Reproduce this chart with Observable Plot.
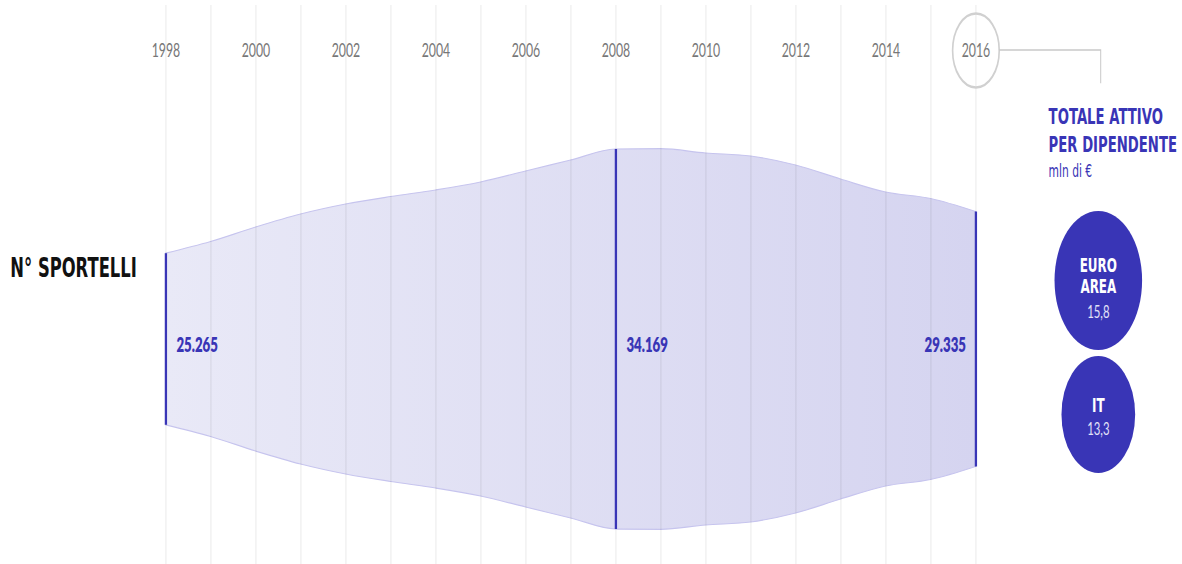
<!DOCTYPE html>
<html>
<head>
<meta charset="utf-8">
<script src="https://cdn.jsdelivr.net/npm/d3@7"></script>
<script src="https://cdn.jsdelivr.net/npm/@observablehq/plot@0.6"></script>
<style>
  html, body { margin: 0; padding: 0; background: #fff; overflow: hidden; }
  #chart { position: relative; width: 1182px; height: 564px; }
  #chart svg { position: absolute; top: 0; }
</style>
</head>
<body>
<div id="chart"></div>
<script>
// ---- data ----
const years = [1998, 1999, 2000, 2001, 2002, 2003, 2004, 2005, 2006, 2007, 2008, 2009, 2010, 2011, 2012, 2013, 2014, 2015, 2016];
const sportelli = [25265, 26265, 27504, 28615, 29469, 30110, 30666, 31349, 32289, 33229, 34169, 34195, 33828, 33571, 32802, 31606, 30495, 29940, 28829];
const tickYears = [1998, 2000, 2002, 2004, 2006, 2008, 2010, 2012, 2014, 2016];
const labelYears = [1998, 2008, 2016];
const labelValues = [25265, 34169, 29335];
const highlightYear = 2016;
const seriesTitle = "N° SPORTELLI";
const panelTitle = "TOTALE ATTIVO\nPER DIPENDENTE";
const panelUnit = "mln di €";
const bubbleAreas = ["EURO AREA", "IT"];
const bubbleNames = ["EURO\nAREA", "IT"];
const bubbleValues = [15.8, 13.3];

// ---- layout ----
const S = 0.63;            // horizontal compression of the original artwork
const W = 1182 / S;
const H = 564;
const MID = 17934;         // value on the stream's centre line
const ink = "#3935b6";

const series = years.map((year, i) => ({year, value: sportelli[i]}));
const markers = labelYears.map((year, i) => ({year, value: sportelli[years.indexOf(year)], label: labelValues[i]}));
const bubbles = bubbleAreas.map((area, i) => ({area, name: bubbleNames[i], value: bubbleValues[i]}));
const mirror = d => 2 * MID - d.value;

const it = d3.formatLocale({decimal: ",", thousands: ".", grouping: [3], currency: ["€", ""]});
const fmtInt = it.format(",d");
const fmtDec = it.format(",.1f");

const valueText = {fill: ink, fontFamily: "Lato", fontWeight: 800, fontSize: 21, lineAnchor: "bottom", dy: 12.7};

const main = Plot.plot({
  width: W, height: H,
  marginTop: 50, marginLeft: 0, marginRight: 0, marginBottom: 0,
  style: {background: "transparent", overflow: "visible"},
  x: {domain: [1998, 2016], range: [165.6 / S, 975.6 / S]},
  y: {domain: [MID - 19226, MID + 28967], range: [H, 0], axis: null},
  marks: [
    Plot.areaY(series, {x: "year", y1: "value", y2: mirror, curve: "monotone-x",
      fill: "url(#streamGrad)", stroke: "#c6c4ee", strokeWidth: 1.2}),
    Plot.ruleX(years, {stroke: "#000", strokeOpacity: 0.085, strokeWidth: 1 / S, insetTop: -45}),
    Plot.dot([highlightYear], {x: d => d, frameAnchor: "top", r: 37, fill: "none", stroke: "#d0d0d0", strokeWidth: 2.6}),
    Plot.axisX(tickYears, {anchor: "top", tickSize: 0, tickPadding: 0, lineAnchor: "middle",
      tickFormat: d => String(d), label: null, fontSize: 19.5, fontWeight: 400, fontFamily: "Lato", fill: "#777"}),
    Plot.ruleX(markers, {x: "year", y1: "value", y2: mirror, stroke: ink, strokeWidth: 2.3 / S}),
    Plot.text(markers.slice(0, 2), {x: "year", y: () => MID, text: d => fmtInt(d.label), textAnchor: "start", dx: 10.5 / S, ...valueText}),
    Plot.text(markers.slice(2), {x: "year", y: () => MID, text: d => fmtInt(d.label), textAnchor: "end", dx: -9.9 / S, ...valueText}),
    Plot.text([seriesTitle], {text: d => d, frameAnchor: "top-left", textAnchor: "start", lineAnchor: "bottom",
      dx: 10 / S, dy: 276.7 - 50, fontFamily: "DejaVu Sans", fontWeight: 700, fontSize: 26, fill: "#111"})
  ]
});

// gradient for the stream
const defs = d3.select(main).insert("defs", ":first-child");
const grad = defs.append("linearGradient").attr("id", "streamGrad")
  .attr("x1", 0).attr("x2", 1).attr("y1", 0).attr("y2", 0);
grad.append("stop").attr("offset", "0%").attr("stop-color", "#e9e9f7");
grad.append("stop").attr("offset", "100%").attr("stop-color", "#d5d4f0");

// side panel
const PL = 990, PWR = 192;
const PW = PWR / S;
const pcx = (1098 - PL) / S;
const pml = 2 * pcx - PW;
const white = {fill: "#fff", fontFamily: "DejaVu Sans", fontWeight: 700, fontSize: 19, lineHeight: 1.09, lineAnchor: "bottom"};
const light = {fill: "#e2e2f8", fontFamily: "Lato", fontWeight: 400, fontSize: 18, lineAnchor: "bottom"};

const panel = Plot.plot({
  width: PW, height: H,
  marginLeft: pml, marginRight: 0, marginTop: 0, marginBottom: 0,
  style: {background: "transparent", overflow: "visible"},
  y: {type: "point", domain: bubbleAreas, range: [279.5, 414], padding: 0, axis: null},
  r: {type: "linear", domain: [0, bubbleValues[0]], range: [0, 69.5]},
  marks: [
    Plot.dot(bubbles, {y: "area", r: "value", fill: ink}),
    Plot.text(bubbles.slice(0, 1), {y: "area", text: "name", dy: 12.2, ...white}),
    Plot.text(bubbles.slice(1), {y: "area", text: "name", dy: -2.3, ...white}),
    Plot.text(bubbles.slice(0, 1), {y: "area", text: d => fmtDec(d.value), dy: 37.5, ...light}),
    Plot.text(bubbles.slice(1), {y: "area", text: d => fmtDec(d.value), dy: 20.3, ...light}),
    Plot.text([panelTitle], {text: d => d, frameAnchor: "top-left", textAnchor: "start", lineAnchor: "bottom",
      dx: (1048.3 - PL) / S - pml, dy: 151.7, lineHeight: 1.352,
      fontFamily: "DejaVu Sans", fontWeight: 700, fontSize: 21, fill: ink}),
    Plot.text([panelUnit], {text: d => d, frameAnchor: "top-left", textAnchor: "start", lineAnchor: "bottom",
      dx: (1048.3 - PL) / S - pml, dy: 176.7,
      fontFamily: "DejaVu Sans", fontSize: 17, fill: ink})
  ]
});

// connector from the highlighted year to the panel
const xs = main.scale("x");
const x0 = xs.apply(highlightYear) + 37;
const xc = (PL / S) + pcx + 2.7 / S;
d3.select(main).append("path")
  .attr("d", `M${x0},50H${xc}V83.3`)
  .attr("fill", "none").attr("stroke", "#c9c9c9").attr("stroke-width", 1.6);

// squash horizontally like the original artwork
function fit(svg, left, wRef, wPre) {
  svg.setAttribute("viewBox", `0 0 ${wPre} ${H}`);
  svg.setAttribute("preserveAspectRatio", "none");
  svg.setAttribute("width", wRef);
  svg.setAttribute("height", H);
  svg.style.width = wRef + "px";
  svg.style.height = H + "px";
  svg.style.maxWidth = "none";
  svg.style.left = left + "px";
}
fit(main, 0, 1182, W);
fit(panel, PL, PWR, PW);

const chart = document.getElementById("chart");
chart.appendChild(main);
chart.appendChild(panel);
</script>
</body>
</html>
